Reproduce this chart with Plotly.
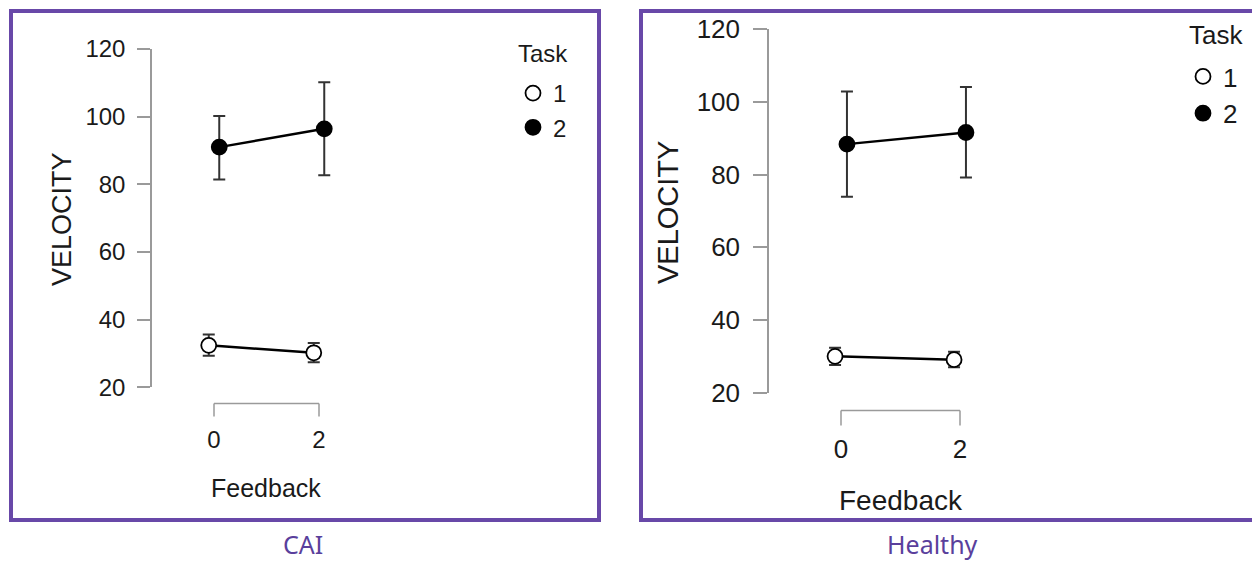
import plotly.graph_objects as go

# ---------------- data ----------------
feedback = [0, 2]
task_labels = ["1", "2"]
legend_title = "Task"
y_ticks = [20, 40, 60, 80, 100, 120]
panel_titles = ["CAI", "Healthy"]

cai_task1 = [32.4, 30.2]
cai_task1_lo = [29.3, 27.4]
cai_task1_hi = [35.6, 33.1]
cai_task2 = [91.0, 96.4]
cai_task2_lo = [81.4, 82.7]
cai_task2_hi = [100.2, 110.2]

healthy_task1 = [30.0, 29.1]
healthy_task1_lo = [27.6, 27.0]
healthy_task1_hi = [32.4, 31.3]
healthy_task2 = [88.4, 91.6]
healthy_task2_lo = [73.9, 79.2]
healthy_task2_hi = [102.9, 104.1]

# ---------------- layout constants (pixels) ----------------
W, H = 1252, 563
FONT = "Arial, Liberation Sans, sans-serif"
PURPLE = "#6848A8"
CAPTION = "#5A3F9C"
AXIS_GREY = "#9a9a9a"
TEXT = "#1a1a1a"
DODGE = 0.1

panels = [
    dict(name="CAI", t1=(cai_task1, cai_task1_lo, cai_task1_hi),
         t2=(cai_task2, cai_task2_lo, cai_task2_hi),
         axis_px=152, x0_px=214, x2_px=319, right_px=500,
         ytop_px=49, ybot_px=387.3, bracket_px=403.5, bracket_tick=13,
         tickfont=24, ticklen=13, ylabel_standoff=7, xlabel_standoff=36,
         ytitle=(62, 219), ytitle_size=27, xtitle=(266, 488), xtitle_size=25,
         legend=(513, 71), legfont=24, legtitle=(543, 53),
         box=(11, 11, 599, 520), caption=(303, 549)),
    dict(name="Healthy", t1=(healthy_task1, healthy_task1_lo, healthy_task1_hi),
         t2=(healthy_task2, healthy_task2_lo, healthy_task2_hi),
         axis_px=769, x0_px=841, x2_px=960, right_px=1150,
         ytop_px=29.3, ybot_px=392.7, bracket_px=410.5, bracket_tick=15,
         tickfont=26, ticklen=14, ylabel_standoff=8, xlabel_standoff=38,
         ytitle=(668, 213), ytitle_size=29, xtitle=(901, 500), xtitle_size=28,
         legend=(1183, 53), legfont=26, legtitle=(1216, 35),
         box=(641, 11, 1262, 520), caption=(932, 549)),
]


def px_x(px):
    return px / W


def px_y(py):
    return 1 - py / H


fig = go.Figure()
layout = dict(width=W, height=H, autosize=False,
              margin=dict(l=0, r=0, t=0, b=0, pad=0, autoexpand=False),
              paper_bgcolor="white", plot_bgcolor="white",
              font=dict(family=FONT, color=TEXT),
              shapes=[], annotations=[])

for i, p in enumerate(panels):
    sfx = "" if i == 0 else str(i + 1)
    xa, ya = "x" + sfx, "y" + sfx
    leg = "legend" if i == 0 else "legend" + str(i + 1)
    ppu = (p["x2_px"] - p["x0_px"]) / (feedback[1] - feedback[0])
    xr = [feedback[0] - (p["x0_px"] - p["axis_px"]) / ppu,
          feedback[0] + (p["right_px"] - p["x0_px"]) / ppu]

    for t, (vals, lo, hi), sign, fill in [
            (task_labels[0], p["t1"], -1, "white"),
            (task_labels[1], p["t2"], +1, "black")]:
        xs = [f + sign * DODGE for f in feedback]
        fig.add_trace(go.Scatter(
            x=xs, y=vals, mode="lines", xaxis=xa, yaxis=ya,
            line=dict(color="black", width=2.5), showlegend=False,
            hoverinfo="skip"))
        fig.add_trace(go.Scatter(
            x=xs, y=vals, mode="markers", xaxis=xa, yaxis=ya, name=t,
            legend=leg, showlegend=True, cliponaxis=False,
            marker=dict(symbol="circle", size=15, color=fill,
                        line=dict(color="black", width=1.8)),
            error_y=dict(type="data", symmetric=False,
                         array=[h - v for h, v in zip(hi, vals)],
                         arrayminus=[v - l for v, l in zip(vals, lo)],
                         color="#333333", thickness=2, width=6)))

    layout["xaxis" + sfx] = dict(
        domain=[px_x(p["axis_px"]), px_x(p["right_px"])], range=xr,
        anchor=ya, showline=False, showgrid=False, zeroline=False,
        automargin=False,
        tickmode="array", tickvals=feedback, ticktext=[str(f) for f in feedback],
        ticks="", ticklabelstandoff=p["xlabel_standoff"],
        tickfont=dict(size=p["tickfont"], family=FONT, color=TEXT),
        fixedrange=True)
    layout["yaxis" + sfx] = dict(
        domain=[px_y(p["ybot_px"]), px_y(p["ytop_px"])],
        range=[y_ticks[0], y_ticks[-1]], anchor=xa,
        showline=True, linecolor=AXIS_GREY, linewidth=1.5,
        showgrid=False, zeroline=False, automargin=False,
        tickmode="array", tickvals=y_ticks,
        ticks="outside", ticklen=p["ticklen"], tickwidth=1.5, tickcolor=AXIS_GREY,
        ticklabelstandoff=p["ylabel_standoff"],
        tickfont=dict(size=p["tickfont"], family=FONT, color=TEXT),
        fixedrange=True)

    # JASP-style x bracket between first and last feedback level
    by = px_y(p["bracket_px"])
    by2 = px_y(p["bracket_px"] + p["bracket_tick"])
    line_style = dict(color=AXIS_GREY, width=1.5)
    layout["shapes"].append(dict(type="line", xref=xa, yref="paper",
                                 x0=feedback[0], x1=feedback[-1], y0=by, y1=by,
                                 line=line_style))
    for f in feedback:
        layout["shapes"].append(dict(type="line", xref=xa, yref="paper",
                                     x0=f, x1=f, y0=by, y1=by2, line=line_style))

    # panel border
    bx0, by0, bx1, by1 = p["box"]
    layout["shapes"].append(dict(type="rect", xref="paper", yref="paper",
                                 x0=px_x(bx0), x1=px_x(bx1), y0=px_y(by1), y1=px_y(by0),
                                 line=dict(color=PURPLE, width=4),
                                 fillcolor="rgba(0,0,0,0)", layer="above"))

    # axis titles
    layout["annotations"].append(dict(
        text="VELOCITY", xref="paper", yref="paper",
        x=px_x(p["ytitle"][0]), y=px_y(p["ytitle"][1]), textangle=-90,
        showarrow=False, xanchor="center", yanchor="middle",
        font=dict(size=p["ytitle_size"], family=FONT, color=TEXT)))
    layout["annotations"].append(dict(
        text="Feedback", xref="paper", yref="paper",
        x=px_x(p["xtitle"][0]), y=px_y(p["xtitle"][1]),
        showarrow=False, xanchor="center", yanchor="middle",
        font=dict(size=p["xtitle_size"], family=FONT, color=TEXT)))
    # legend heading
    layout["annotations"].append(dict(
        text=legend_title, xref="paper", yref="paper",
        x=px_x(p["legtitle"][0]), y=px_y(p["legtitle"][1]),
        showarrow=False, xanchor="center", yanchor="middle",
        font=dict(size=p["legfont"], family=FONT, color=TEXT)))
    # caption below the panel
    layout["annotations"].append(dict(
        text=panel_titles[i], xref="paper", yref="paper",
        x=px_x(p["caption"][0]), y=0.0015,
        showarrow=False, xanchor="center", yanchor="bottom", borderpad=0,
        font=dict(size=25, family="Noto Sans, Open Sans, sans-serif", color=CAPTION)))

    layout[leg] = dict(
        font=dict(size=p["legfont"], family=FONT, color=TEXT),
        x=px_x(p["legend"][0]), y=px_y(p["legend"][1]),
        xanchor="left", yanchor="top", bgcolor="rgba(0,0,0,0)",
        borderwidth=0, itemclick=False, itemdoubleclick=False,
        tracegroupgap=0)

fig.update_layout(**layout)
fig.write_html("out.html")
